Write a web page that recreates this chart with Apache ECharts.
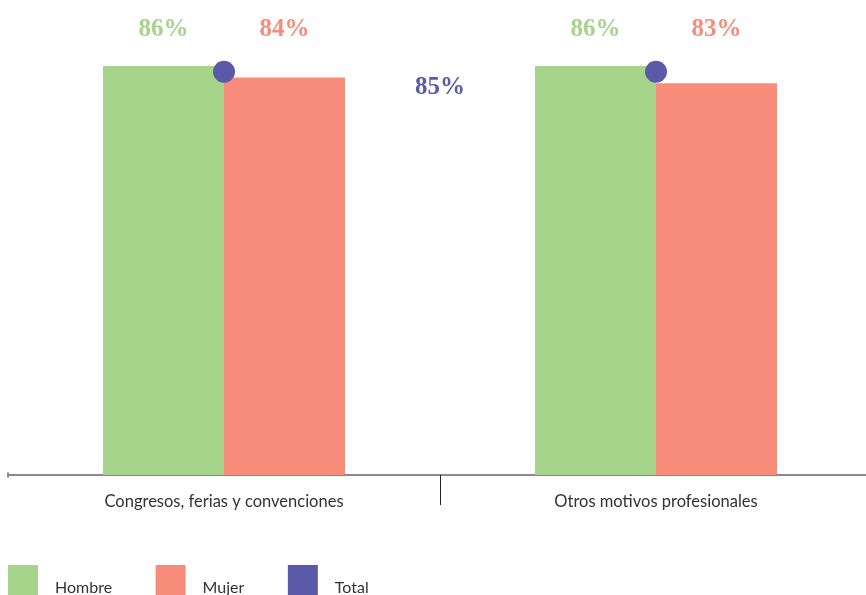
<!DOCTYPE html>
<html>
<head>
<meta charset="utf-8">
<style>
  html, body { margin: 0; padding: 0; background: #ffffff; }
  #chart { width: 866px; height: 595px; }
</style>
<script src="https://cdn.jsdelivr.net/npm/echarts@6/dist/echarts.min.js"></script>
</head>
<body>
<div id="chart"></div>
<script>
// Categories and percentages per group
const categories = ['Congresos, ferias y convenciones', 'Otros motivos profesionales'];
const hombre = [86, 86];
const mujer = [84, 83];
const total = [85, 85];
const totalGlobal = 85;
const legendNames = ['Hombre', 'Mujer', 'Total'];

const colors = { hombre: '#a5d48a', mujer: '#f88c7a', total: '#5b5aa8' };
const yMin = 15;
const yMax = 90;

const chart = echarts.init(document.getElementById('chart'), null, { renderer: 'canvas' });

const pctFont = { fontFamily: 'Liberation Serif', fontSize: 25, fontWeight: 'bold' };

// transparent caps stacked on each bar so the value text sits at the top of the plot
function capSeries(name, stack, values, color) {
  return {
    name: name + ' valor',
    type: 'bar',
    stack: stack,
    silent: true,
    barWidth: 121,
    barGap: 0,
    itemStyle: { color: 'rgba(0,0,0,0)' },
    data: values.map(v => ({ value: yMax - v, real: v })),
    label: {
      show: true,
      position: 'top',
      distance: 1,
      color: color,
      ...pctFont,
      formatter: p => p.data.real + '%'
    }
  };
}

const option = {
  animation: false,
  backgroundColor: '#ffffff',
  grid: { left: 8, width: 864, top: 43, bottom: 120, outerBoundsMode: 'none' },
  legend: {
    data: legendNames,
    left: 8,
    top: 564,
    padding: 0,
    icon: 'rect',
    itemWidth: 30,
    itemHeight: 30,
    itemGap: 43.5,
    // empty first line drops the name below the middle of the swatch
    formatter: name => '\n' + name,
    textStyle: {
      fontFamily: 'Lato',
      fontSize: 16,
      lineHeight: 16,
      color: '#333333',
      padding: [0, 0, 0, 12]
    },
    selectedMode: false
  },
  xAxis: [
    {
      type: 'category',
      data: categories,
      axisLine: {
        show: true,
        symbol: ['rect', 'none'],
        symbolSize: [5, 2],
        lineStyle: { color: '#8a8a8a', width: 2 }
      },
      axisTick: { show: false },
      axisLabel: {
        margin: 18,
        fontFamily: 'Lato',
        fontSize: 16.5,
        color: '#333333'
      }
    },
    {
      type: 'value',
      position: 'bottom',
      min: 0,
      max: 2,
      interval: 1,
      axisLine: { show: false },
      axisLabel: { show: false },
      splitLine: { show: false },
      axisTick: {
        show: true,
        customValues: [1],
        length: 30,
        lineStyle: { color: '#222222', width: 1 }
      }
    }
  ],
  yAxis: {
    type: 'value',
    min: yMin,
    max: yMax,
    show: false
  },
  series: [
    {
      name: 'Hombre',
      type: 'bar',
      stack: 'h',
      barWidth: 121,
      barGap: 0,
      itemStyle: { color: colors.hombre },
      data: hombre
    },
    capSeries('Hombre', 'h', hombre, colors.hombre),
    {
      name: 'Mujer',
      type: 'bar',
      stack: 'm',
      barWidth: 121,
      barGap: 0,
      itemStyle: { color: colors.mujer },
      data: mujer
    },
    capSeries('Mujer', 'm', mujer, colors.mujer),
    {
      name: 'Total',
      type: 'scatter',
      symbol: 'circle',
      symbolSize: 22,
      z: 5,
      itemStyle: { color: colors.total, opacity: 1 },
      data: total
    }
  ]
};

chart.setOption(option);

// overall total, written between the two groups just under the dots
const midX = (chart.convertToPixel({ xAxisIndex: 0 }, 0) + chart.convertToPixel({ xAxisIndex: 0 }, 1)) / 2;
const totY = chart.convertToPixel({ yAxisIndex: 0 }, totalGlobal);
chart.setOption({
  graphic: [{
    type: 'text',
    x: midX,
    y: totY + 16,
    style: {
      text: totalGlobal + '%',
      fill: colors.total,
      font: 'bold 25px "Liberation Serif"',
      align: 'center',
      verticalAlign: 'middle'
    }
  }]
});
</script>
</body>
</html>
